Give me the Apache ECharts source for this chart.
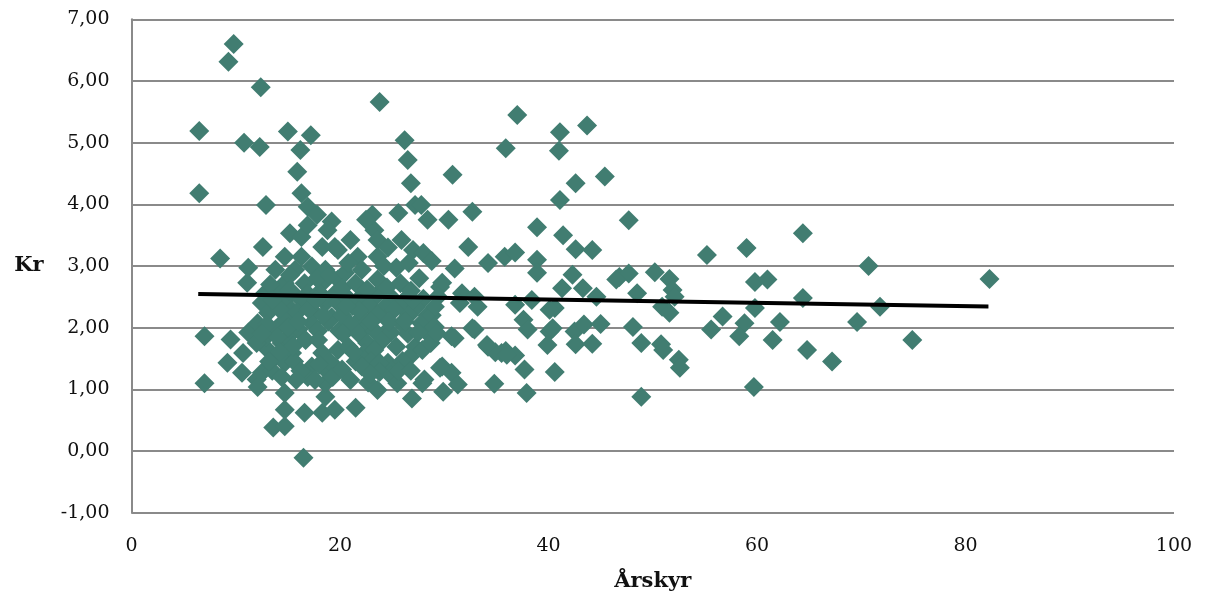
<!DOCTYPE html>
<html>
<head>
<meta charset="utf-8">
<script src="https://cdn.jsdelivr.net/npm/echarts@6/dist/echarts.min.js"></script>
<style>
html,body{margin:0;padding:0;background:#fff;}
#chart{width:1206px;height:601px;}
</style>
</head>
<body>
<div id="chart"></div>
<script>
// Axis ticks
const xTicks = [0, 20, 40, 60, 80, 100];
const yTickLabels = ['-1,00','0,00','1,00','2,00','3,00','4,00','5,00','6,00','7,00'];
const xName = 'Årskyr';
const yName = 'Kr';

// Scatter points: [Årskyr, Kr]
const outliersLeft = [
  [6.5,5.19],[6.5,4.18],[9.3,6.31],[9.8,6.6],[10.8,5.0],[12.4,5.9],[12.3,4.93],[12.9,3.99],
  [15.0,5.18],[17.2,5.12],[16.2,4.88],[15.9,4.53],[16.3,4.18],[8.5,3.12],[7.0,1.86],[9.5,1.81],
  [11.2,1.92],[9.2,1.43],[7.0,1.1],[10.7,1.59],[10.6,1.27],[12.0,1.16],[12.1,1.04],[12.5,1.27],
  [13.6,0.38],[14.7,0.4],[14.7,0.67],[14.7,0.94],[16.5,-0.11],[16.6,0.62],[18.3,0.62],[18.6,0.88],
  [19.5,0.67],[18.6,1.1],[21.5,0.7],[23.8,5.66],[16.9,3.96],[17.8,3.83],[19.2,3.72],[15.2,3.53],
  [12.6,3.31],[11.2,2.97],[11.1,2.73],[12.8,2.56],[16.3,3.47],[16.9,3.66],[18.8,3.58]
];
const clusterA = [
  [13.8,2.94],[15.7,2.94],[17.3,2.99],[18.6,2.94],[14.7,3.15],[16.3,3.15],[18.3,3.31],[19.5,3.31],
  [14.7,2.72],[16.6,2.72],[18.3,2.72],[19.8,2.78],
  [14.0,2.56],[15.4,2.58],[16.9,2.55],[18.0,2.57],[19.5,2.55],
  [12.5,2.4],[14.7,2.45],[16.3,2.45],[18.6,2.4],[19.8,2.4],
  [13.1,2.24],[15.4,2.28],[17.5,2.25],[19.2,2.17],
  [12.1,2.07],[14.7,2.12],[16.0,1.97],[17.3,2.07],[13.8,1.97],[17.9,1.95],
  [14.4,1.75],[16.7,1.8],[17.9,1.8],[13.1,1.64],[15.4,1.59],[18.3,1.59],[19.8,1.64],
  [13.8,1.53],[14.7,1.43],[17.3,1.37],[18.6,1.32],[19.5,1.37],[16.9,1.2],[13.5,1.3],
  [15.0,1.85],[12.9,1.85],[15.9,2.25],[14.2,2.3],[17.0,2.3],[18.9,2.1],[15.6,1.45],
  [16.2,1.3],[13.3,2.7],[15.2,2.85],[17.8,2.8],[19.0,2.85],
  [12.0,1.75],[13.0,2.05],[14.0,1.85],[15.0,2.0],[16.0,2.1],[15.5,1.7],[14.2,1.6],
  [12.5,1.9],[13.5,2.45],[15.1,2.6],[17.7,2.45],[18.4,2.2],[19.9,1.95],[19.0,1.45],
  [18.0,1.4],[15.8,1.15],[13.2,1.45],[17.6,1.15],[19.3,1.2],[14.4,1.2]
];
const clusterB = [
  [20.5,2.52],[22.0,2.5],[23.5,2.52],[25.0,2.48],[26.5,2.5],[28.0,2.47],
  [21.2,2.35],[22.8,2.36],[24.3,2.34],[25.8,2.36],[27.3,2.33],
  [20.2,2.2],[22.1,2.17],[23.6,2.2],[25.2,2.29],[26.6,2.2],[28.4,2.2],
  [21.0,2.05],[22.7,2.04],[24.3,1.91],[25.9,2.07],[27.8,2.07],
  [20.3,1.9],[21.8,1.9],[23.3,1.95],[24.9,1.92],[26.5,1.9],[28.4,1.91],
  [20.8,1.69],[22.6,1.75],[24.0,1.78],[25.4,1.69],[27.2,1.69],
  [22.3,1.58],[23.3,1.64],[26.7,1.53],[27.9,1.64],
  [21.5,1.45],[23.0,1.45],[24.6,1.43],[26.0,1.46],[23.8,1.43],
  [20.2,1.32],[22.1,1.37],[23.8,1.28],[24.9,1.22],
  [22.7,1.11],[23.6,0.99],[25.5,1.1],[27.9,1.1],[26.9,0.85],[21.0,1.15],
  [21.8,2.28],[23.0,2.1],[24.7,2.1],[26.2,2.1],[27.5,1.92],[21.3,1.6],[25.6,1.3],
  [26.8,1.3],[22.9,1.25],[20.6,2.35],[27.0,2.45],[28.8,2.2],[28.7,1.75]
];
const clusterC = [
  [19.8,3.26],[21.0,3.42],[23.3,3.58],[23.6,3.42],[23.1,3.83],[22.5,3.75],[25.6,3.86],
  [27.2,3.99],[27.8,3.99],[28.4,3.75],[30.4,3.75],[32.7,3.88],[25.9,3.42],[27.0,3.26],
  [28.0,3.21],[28.8,3.08],[32.3,3.31],[34.2,3.05],[21.7,3.15],[23.6,3.15],[22.1,2.94],
  [25.4,2.97],[31.0,2.96],[29.8,2.73],[23.6,2.78],[20.5,2.89],[31.7,2.56],[32.9,2.5],
  [29.6,2.66],[26.2,5.04],[26.5,4.72],[26.8,4.34],[30.8,4.48],[35.9,4.91],
  [20.2,2.64],[21.5,2.72],[22.6,2.62],[24.5,2.65],[25.8,2.72],[26.8,2.6],[27.6,2.8],
  [24.2,3.0],[26.6,3.05],[20.8,3.05],[24.6,3.3]
];
const clusterD = [
  [29.4,2.5],[33.2,2.34],[29.1,2.34],[29.1,2.01],[32.9,1.97],[30.7,1.86],[34.2,1.69],
  [35.5,1.59],[29.8,1.37],[30.7,1.27],[29.9,0.96],[31.3,1.08],[28.1,1.16],[34.8,1.09],
  [31.5,2.4],[29.3,1.91],[31.0,1.83],[32.7,1.99],[29.6,1.35]
];
const outliersRight = [
  [37.0,5.45],[41.1,5.17],[43.7,5.28],[41.0,4.87],[42.6,4.34],[45.4,4.45],[41.1,4.07],
  [47.7,3.74],[38.9,3.63],[41.4,3.5],[42.6,3.27],[44.2,3.26],[35.8,3.15],[36.8,3.22],
  [38.9,3.1],[38.9,2.89],[42.3,2.86],[46.8,2.82],[47.7,2.88],[50.2,2.9],[51.6,2.79],
  [41.3,2.64],[43.3,2.64],[48.5,2.56],[44.6,2.5],[51.9,2.61],[52.1,2.5],[36.8,2.37],
  [38.4,2.45],[40.6,2.32],[50.9,2.34],[51.6,2.24],[37.6,2.13],[38.0,1.97],[40.1,1.94],
  [42.5,1.94],[43.4,2.05],[45.0,2.06],[42.6,1.73],[44.2,1.74],[39.9,1.72],[48.1,2.01],
  [48.9,1.75],[50.8,1.73],[51.0,1.64],[52.5,1.48],[52.6,1.35],[35.9,1.62],[36.8,1.55],
  [34.9,1.6],[37.7,1.32],[40.6,1.28],[37.9,0.94],[48.9,0.88],[34.1,1.72],[40.1,2.29],
  [46.5,2.78],[40.4,1.99],[36.0,1.56]
];
const outliersFar = [
  [64.4,3.53],[55.2,3.18],[59.0,3.29],[70.7,3.0],[59.8,2.74],[61.0,2.78],[64.4,2.48],
  [71.8,2.34],[59.8,2.32],[56.7,2.18],[55.6,1.97],[58.8,2.07],[58.3,1.86],[62.2,2.09],
  [61.5,1.8],[69.6,2.09],[64.8,1.64],[67.2,1.45],[74.9,1.8],[59.7,1.04],[82.3,2.79]
];
// Linear trendline endpoints
const trendLine = [[6.4,2.545],[82.2,2.344]];

const points = [].concat(outliersLeft, clusterA, clusterB, clusterC, clusterD, outliersRight, outliersFar);

const chart = echarts.init(document.getElementById('chart'), null, {renderer:'canvas'});
const fontFam = '"DejaVu Serif", "Liberation Serif", serif';
chart.setOption({
  animation: false,
  backgroundColor: '#ffffff',
  grid: {left: 131.5, right: 32, top: 19.3, bottom: 88.3, containLabel: false},
  xAxis: {
    type: 'value', min: 0, max: 100, interval: 20,
    name: xName, nameLocation: 'middle', nameGap: 58,
    nameTextStyle: {fontFamily: fontFam, fontWeight: 'bold', fontSize: 21, color: '#111'},
    axisLine: {show: false},
    axisTick: {show: false},
    axisLabel: {fontFamily: fontFam, fontSize: 19, color: '#111', margin: 24,
      formatter: v => xTicks.indexOf(v) >= 0 ? String(v) : ''},
    splitLine: {show: false}
  },
  yAxis: {
    type: 'value', min: -1, max: 7, interval: 1,
    name: yName, nameLocation: 'middle', nameGap: 88, nameRotate: 0,
    nameTextStyle: {fontFamily: fontFam, fontWeight: 'bold', fontSize: 21, color: '#111'},
    axisLine: {show: true, lineStyle: {color: '#8a8a8a', width: 2}},
    axisTick: {show: false},
    axisLabel: {fontFamily: fontFam, fontSize: 19, color: '#111', margin: 22,
      formatter: v => yTickLabels[Math.round(v) + 1]},
    splitLine: {show: true, lineStyle: {color: '#8a8a8a', width: 2}}
  },
  series: [
    {
      type: 'scatter', data: points, symbol: 'diamond', symbolSize: 20,
      itemStyle: {color: '#417d71', opacity: 1}, z: 2
    },
    {
      type: 'line', data: trendLine, symbol: 'none', z: 3,
      lineStyle: {color: '#000', width: 4}
    }
  ]
});
</script>
</body>
</html>
